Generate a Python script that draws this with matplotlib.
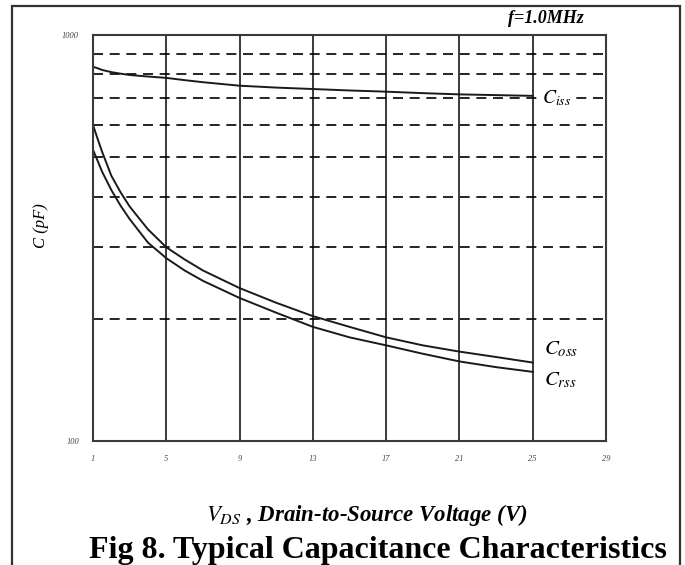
import numpy as np
import matplotlib
matplotlib.use("Agg")
import matplotlib.pyplot as plt
from matplotlib.patches import Rectangle

plt.rcParams['font.family'] = ['Liberation Serif', 'DejaVu Serif']
plt.rcParams['mathtext.fontset'] = 'stix'

# values (V_DS in volts, C in pF)
vds = [1, 1.25, 1.5, 2, 2.5, 3, 4, 5, 6, 7, 9, 11, 13, 15, 17, 19, 21, 23, 25]
ciss = [835, 828, 820, 810, 803, 797, 790, 784, 774, 765, 750, 742, 736, 730, 725, 719, 714, 711, 708]
coss = [600, 555, 515, 450, 410, 378, 332, 300, 280, 263, 238, 219, 203, 191, 180, 172, 166, 161, 156]
crss = [521, 490, 460, 415, 380, 352, 308, 282, 263, 248, 225, 207, 191, 180, 172, 164, 157, 152, 148]

x_ticks = [1, 5, 9, 13, 17, 21, 25, 29]
y_minor = [200, 300, 400, 500, 600, 700, 800, 900]

fig = plt.figure(figsize=(6.85, 5.65), dpi=100)
ax = fig.add_axes([0.1358, 0.2195, 0.7489, 0.7186])

# outer frame of the figure box (open at the bottom)
fig.patches.append(Rectangle((12 / 685, -0.05), 668 / 685, 1 - 6 / 565 + 0.05,
                             transform=fig.transFigure, fill=False,
                             edgecolor='#333333', lw=1.6))

ax.set_yscale('log')
ax.set_xlim(1, 29)
ax.set_ylim(100, 1000)

ax.set_xticks(x_ticks)
ax.set_xticklabels([str(v) for v in x_ticks], fontsize=6, style='italic')
ax.set_yticks([100, 1000])
ax.set_yticklabels(['100', '1000'], fontsize=6, style='italic')
ax.set_yticks(y_minor, minor=True)
ax.set_yticklabels([], minor=True)
ax.tick_params(axis='both', which='both', length=0, pad=10, colors='#444444')

ax.grid(axis='x', which='major', color='#3a3a3a', lw=1.4, ls='-')
ax.grid(axis='y', which='minor', color='black', lw=1.2, ls=(0, (6, 4)))
for s in ax.spines.values():
    s.set_color('#3a3a3a')
    s.set_linewidth(1.5)

for series in (ciss, coss, crss):
    ax.plot(vds, series, color='#1a1a1a', lw=1.4)

ax.text(25.5, 700, r'$C_{iss}$', fontsize=14, va='center', ha='left',
        bbox=dict(facecolor='white', edgecolor='none', pad=1))
ax.text(25.6, 168, r'$C_{oss}$', fontsize=15, va='center', ha='left')
ax.text(25.6, 141, r'$C_{rss}$', fontsize=15, va='center', ha='left')

fig.text(0.797, 0.968, 'f=1.0MHz', fontsize=13, style='italic', weight='bold',
         ha='center', va='center')
ax.set_ylabel('C (pF)', fontsize=12, style='italic')
ax.yaxis.set_label_coords(-0.085, 0.53)
fig.text(0.536, 0.088, r'$V_{DS}$ , Drain-to-Source Voltage (V)', fontsize=16.5,
         style='italic', weight='bold', ha='center', va='center')
fig.text(0.552, 0.026, 'Fig 8. Typical Capacitance Characteristics', fontsize=23,
         weight='bold', ha='center', va='center')

fig.savefig('out.png', dpi=100)
